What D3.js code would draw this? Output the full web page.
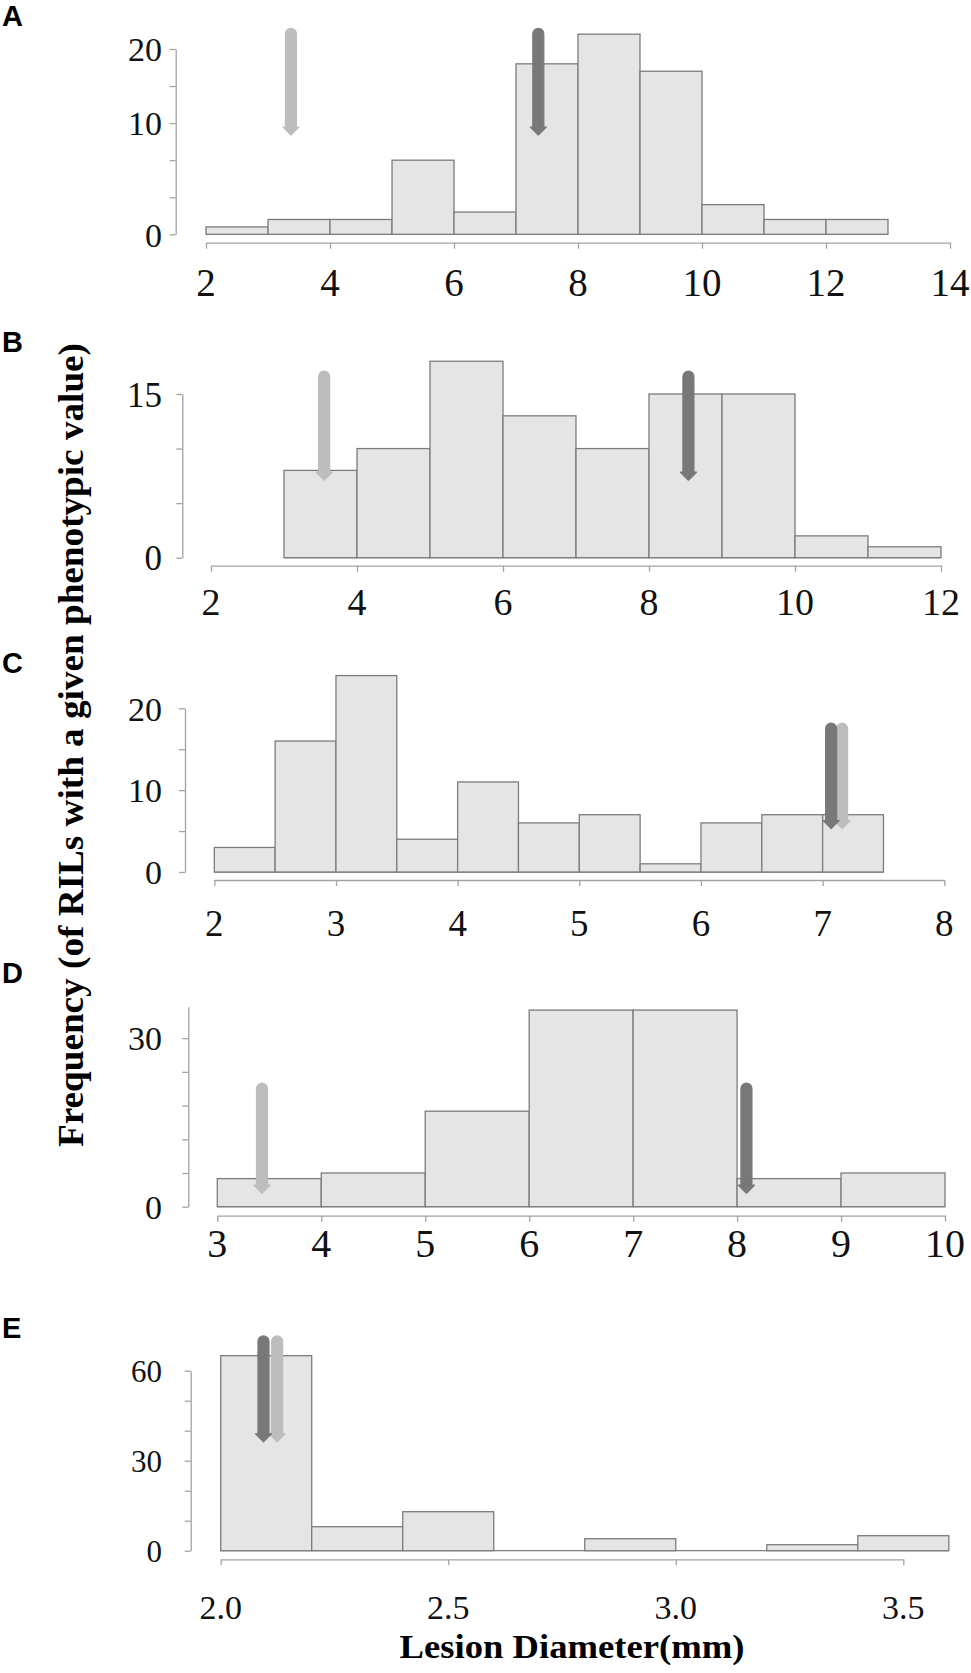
<!DOCTYPE html>
<html>
<head>
<meta charset="utf-8">
<script src="https://cdn.jsdelivr.net/npm/d3@7"></script>
<style>
  body { margin: 0; background: #fff; }
  svg { display: block; }
</style>
</head>
<body>
<script>
// ---- data ----
// bin edges and counts for each panel
var edgesA = [2, 3, 4, 5, 6, 7, 8, 9, 10, 11, 12, 13];
var countsA = [1, 2, 2, 10, 3, 23, 27, 22, 4, 2, 2];

var edgesB = [3, 4, 5, 6, 7, 8, 9, 10, 11, 12];
var countsB = [8, 10, 18, 13, 10, 15, 15, 2, 1];

var edgesC = [2, 2.5, 3, 3.5, 4, 4.5, 5, 5.5, 6, 6.5, 7, 7.5];
var countsC = [3, 16, 24, 4, 11, 6, 7, 1, 6, 7, 7];

var edgesD = [3, 4, 5, 6, 7, 8, 9, 10];
var countsD = [5, 6, 17, 35, 35, 5, 6];

var edgesE = [2.0, 2.2, 2.4, 2.6, 2.8, 3.0, 3.2, 3.4, 3.6];
var countsE = [65, 8, 13, 0, 4, 0, 2, 5];

// x tick values
var xTicksA = [2, 4, 6, 8, 10, 12, 14];
var xTicksB = [2, 4, 6, 8, 10, 12];
var xTicksC = [2, 3, 4, 5, 6, 7, 8];
var xTicksD = [3, 4, 5, 6, 7, 8, 9, 10];
var xTicksE = [2.0, 2.5, 3.0, 3.5];

// y tick marks, and where the printed labels sit
var yTicksA = [0, 5, 10, 15, 20, 25];
var yLabelAtA = [0, 15, 25];
var yLabelTxtA = ["0", "10", "20"];

var yTicksB = [0, 5, 10, 15];
var yLabelAtB = [0, 15];
var yLabelTxtB = ["0", "15"];

var yTicksC = [0, 5, 10, 15, 20];
var yLabelAtC = [0, 10, 20];
var yLabelTxtC = ["0", "10", "20"];

var yTicksD = [0, 6, 12, 18, 24, 30];
var yLabelAtD = [0, 30];
var yLabelTxtD = ["0", "30"];

var yTicksE = [0, 10, 20, 30, 40, 50, 60];
var yLabelAtE = [0, 30, 60];
var yLabelTxtE = ["0", "30", "60"];

// parent arrows: x position, top and tip in data units
var arrowsA = [{x: 3.37, top: 27.8, tip: 13.4, tone: "light"},
               {x: 7.36, top: 27.8, tip: 13.4, tone: "dark"}];
var arrowsB = [{x: 3.55, top: 17.1, tip: 7.1, tone: "light"},
               {x: 8.54, top: 17.1, tip: 7.1, tone: "dark"}];
var arrowsC = [{x: 7.16, top: 18.2, tip: 5.3, tone: "light"},
               {x: 7.07, top: 18.2, tip: 5.3, tone: "dark"}];
var arrowsD = [{x: 3.43, top: 22.0, tip: 2.4, tone: "light"},
               {x: 8.09, top: 22.0, tip: 2.4, tone: "dark"}];
var arrowsE = [{x: 2.124, top: 71.6, tip: 36.3, tone: "light"},
               {x: 2.094, top: 71.6, tip: 36.3, tone: "dark"}];

// ---- layout ----
var W = 971, H = 1673;
var serif = "'Liberation Serif','Times New Roman',Times,serif";
var tone = {light: "#bdbdbd", dark: "#787878"};

var panels = [
  {id: "A", edges: edgesA, counts: countsA, xDom: [2, 14], xPx: [206, 950], xAxisY: 242.7,
   xTicks: xTicksA, xFmt: d3.format("d"), xLabY: 282, xFont: 39,
   yAxisX: 175.7, yDom: [0, 25], yPx: [234.3, 49], yTicks: yTicksA,
   yLabAt: yLabelAtA, yLabTxt: yLabelTxtA, yFont: 34, letterY: 26, arrows: arrowsA},
  {id: "B", edges: edgesB, counts: countsB, xDom: [2, 12], xPx: [211, 941], xAxisY: 565.7,
   xTicks: xTicksB, xFmt: d3.format("d"), xLabY: 601, xFont: 38,
   yAxisX: 182.3, yDom: [0, 15], yPx: [557.7, 394], yTicks: yTicksB,
   yLabAt: yLabelAtB, yLabTxt: yLabelTxtB, yFont: 35, letterY: 352, arrows: arrowsB},
  {id: "C", edges: edgesC, counts: countsC, xDom: [2, 8], xPx: [214.3, 944.3], xAxisY: 880,
   xTicks: xTicksC, xFmt: d3.format("d"), xLabY: 923, xFont: 37,
   yAxisX: 185, yDom: [0, 20], yPx: [872, 708.3], yTicks: yTicksC,
   yLabAt: yLabelAtC, yLabTxt: yLabelTxtC, yFont: 34, letterY: 673, arrows: arrowsC},
  {id: "D", edges: edgesD, counts: countsD, xDom: [3, 10], xPx: [217.3, 945], xAxisY: 1215.7,
   xTicks: xTicksD, xFmt: d3.format("d"), xLabY: 1243, xFont: 40,
   yAxisX: 188.3, yDom: [0, 35.6], yPx: [1206.7, 1006.7], yTicks: yTicksD,
   yLabAt: yLabelAtD, yLabTxt: yLabelTxtD, yFont: 34, letterY: 983, arrows: arrowsD},
  {id: "E", edges: edgesE, counts: countsE, xDom: [2.0, 3.5], xPx: [220.7, 903.3], xAxisY: 1559.3,
   xTicks: xTicksE, xFmt: d3.format(".1f"), xLabY: 1606.7, xFont: 34,
   yAxisX: 190.7, yDom: [0, 60], yPx: [1550.7, 1370.7], yTicks: yTicksE,
   yLabAt: yLabelAtE, yLabTxt: yLabelTxtE, yFont: 31, letterY: 1338, arrows: arrowsE}
];

var svg = d3.select("body").append("svg")
    .attr("width", W)
    .attr("height", H)
    .attr("viewBox", "0 0 " + W + " " + H);

svg.append("rect").attr("width", W).attr("height", H).attr("fill", "#fff");

panels.forEach(function (p) {
  var g = svg.append("g");
  var x = d3.scaleLinear().domain(p.xDom).range(p.xPx);
  var y = d3.scaleLinear().domain(p.yDom).range(p.yPx);

  // baseline under the bars (shows through empty bins)
  g.append("line")
      .attr("x1", x(p.edges[0]))
      .attr("x2", x(p.edges[p.edges.length - 1]))
      .attr("y1", y(0))
      .attr("y2", y(0))
      .attr("stroke", "#7c7c7c")
      .attr("stroke-width", 1.3);

  // bars
  var bins = p.counts.map(function (c, i) {
    return {x0: p.edges[i], x1: p.edges[i + 1], n: c};
  });
  g.selectAll("rect.bar").data(bins.filter(function (d) { return d.n > 0; })).enter().append("rect")
      .attr("class", "bar")
      .attr("x", function (d) { return x(d.x0); })
      .attr("width", function (d) { return x(d.x1) - x(d.x0); })
      .attr("y", function (d) { return y(d.n); })
      .attr("height", function (d) { return y(0) - y(d.n); })
      .attr("fill", "#e5e5e5")
      .attr("stroke", "#7c7c7c")
      .attr("stroke-width", 1.3);

  // x axis, drawn a little below the bars
  var xa = g.append("g")
      .attr("transform", "translate(0," + p.xAxisY + ")")
      .call(d3.axisBottom(x).tickValues(p.xTicks).tickSize(6).tickSizeOuter(0).tickFormat(""));
  xa.selectAll("path,line").attr("stroke", "#a3a3a3").attr("stroke-width", 1.3);

  g.selectAll("text.xl").data(p.xTicks).enter().append("text")
      .attr("class", "xl")
      .attr("x", function (d) { return x(d); })
      .attr("y", p.xLabY)
      .attr("dy", "0.36em")
      .attr("text-anchor", "middle")
      .attr("font-family", serif)
      .attr("font-size", p.xFont)
      .attr("fill", "#111")
      .text(p.xFmt);

  // y axis
  var ya = g.append("g")
      .attr("transform", "translate(" + p.yAxisX + ",0)")
      .call(d3.axisLeft(y).tickValues(p.yTicks).tickSize(6).tickSizeOuter(0).tickFormat(""));
  ya.selectAll("path,line").attr("stroke", "#a3a3a3").attr("stroke-width", 1.3);

  g.selectAll("text.yl").data(p.yLabAt).enter().append("text")
      .attr("class", "yl")
      .attr("x", 162)
      .attr("y", function (d) { return y(d); })
      .attr("dy", "0.36em")
      .attr("text-anchor", "end")
      .attr("font-family", serif)
      .attr("font-size", p.yFont)
      .attr("fill", "#111")
      .text(function (d, i) { return p.yLabTxt[i]; });

  // parent arrows
  p.arrows.forEach(function (a) {
    var cx = x(a.x), t = y(a.top), b = y(a.tip), r = 5.5, hw = 8, hh = 8;
    var path = "M" + (cx - r) + "," + (b - hh) +
        " L" + (cx - r) + "," + (t + r) +
        " A" + r + "," + r + " 0 0 1 " + (cx + r) + "," + (t + r) +
        " L" + (cx + r) + "," + (b - hh) +
        " L" + (cx + hw) + "," + (b - hh) +
        " L" + cx + "," + b +
        " L" + (cx - hw) + "," + (b - hh) + " Z";
    g.append("path")
        .attr("d", path)
        .attr("fill", tone[a.tone])
        .attr("stroke", tone[a.tone])
        .attr("stroke-width", 1.2)
        .attr("stroke-linejoin", "round");
  });

  // panel letter
  svg.append("text")
      .attr("x", 2)
      .attr("y", p.letterY)
      .attr("font-family", "'Liberation Sans',Arial,Helvetica,sans-serif")
      .attr("font-weight", "bold")
      .attr("font-size", 29)
      .attr("fill", "#000")
      .text(p.id);
});

// shared axis titles
svg.append("text")
    .attr("transform", "translate(83,745) rotate(-90)")
    .attr("text-anchor", "middle")
    .attr("font-family", serif)
    .attr("font-weight", "bold")
    .attr("font-size", 35)
    .attr("textLength", 804)
    .attr("lengthAdjust", "spacingAndGlyphs")
    .attr("fill", "#000")
    .text("Frequency (of RILs with a given phenotypic value)");

svg.append("text")
    .attr("x", 572)
    .attr("y", 1658)
    .attr("text-anchor", "middle")
    .attr("font-family", serif)
    .attr("font-weight", "bold")
    .attr("font-size", 33)
    .attr("textLength", 345)
    .attr("lengthAdjust", "spacingAndGlyphs")
    .attr("fill", "#000")
    .text("Lesion Diameter(mm)");
</script>
</body>
</html>
